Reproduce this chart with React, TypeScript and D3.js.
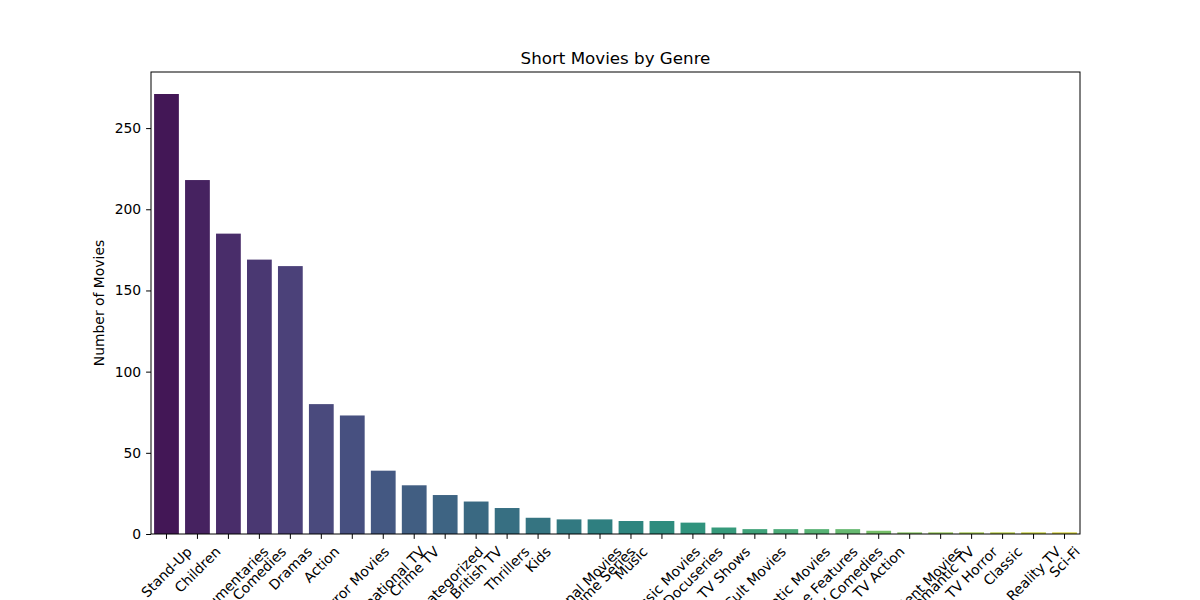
import React, { useEffect, useRef } from "react";
import * as d3 from "d3";

// genre names, in bar order
const genres = [
  "Stand-Up", "Children", "Documentaries", "Comedies", "Dramas", "Action",
  "Horror Movies", "International TV", "Crime TV", "Uncategorized", "British TV",
  "Thrillers", "Kids", "International Movies", "Anime Series", "Music",
  "Classic Movies", "Docuseries", "TV Shows", "Cult Movies", "Romantic Movies",
  "Anime Features", "TV Comedies", "TV Action", "Independent Movies",
  "Romantic TV", "TV Horror", "Classic", "Reality TV", "Sci-Fi",
];

// number of short movies per genre
const counts = [
  271, 218, 185, 169, 165, 80, 73, 39, 30, 24, 20, 16, 10, 9, 9, 8, 8, 7, 4, 3,
  3, 3, 3, 2, 1, 1, 1, 1, 1, 1,
];

const yTicks = [0, 50, 100, 150, 200, 250];

const W = 1200;
const H = 600;
const margins = { top: 72, right: 120, bottom: 66, left: 151 };
const FONT = "DejaVu Sans, sans-serif";
const FS = 13.9; // 10pt at 100 dpi
const TICK = 4.9;

// seaborn style palette: viridis sampled without the ends, saturation 0.75
function barColor(i: number, n: number) {
  const c = d3.hsl(d3.interpolateViridis((i + 1) / (n + 1)));
  c.s = c.s * 0.75;
  return c.formatHex();
}

export default function App() {
  const ref = useRef<SVGSVGElement | null>(null);

  useEffect(() => {
    if (ref.current == null) return;
    const svg = d3.select(ref.current);
    svg.selectAll("*").remove();

    const innerW = W - margins.left - margins.right;
    const innerH = H - margins.top - margins.bottom;

    const x = d3.scaleBand()
      .domain(genres)
      .range([0, innerW])
      .paddingInner(0.2)
      .paddingOuter(0.1);

    const y = d3.scaleLinear()
      .domain([0, d3.max(counts)! * 1.05])
      .range([innerH, 0]);

    const g = svg.append("g")
      .attr("transform", `translate(${margins.left},${margins.top})`);

    // bars
    g.selectAll("rect.bar")
      .data(genres)
      .enter()
      .append("rect")
      .attr("class", "bar")
      .attr("x", d => x(d) || 0)
      .attr("y", (d, i) => y(counts[i]))
      .attr("width", x.bandwidth())
      .attr("height", (d, i) => innerH - y(counts[i]))
      .attr("fill", (d, i) => barColor(i, genres.length));

    // y axis
    const yAxis = g.append("g")
      .call(d3.axisLeft(y).tickValues(yTicks).tickSize(TICK).tickPadding(TICK));
    yAxis.select(".domain").remove();
    yAxis.selectAll("line").attr("stroke", "#000").attr("stroke-width", 1);
    yAxis.selectAll("text")
      .attr("font-family", FONT)
      .attr("font-size", FS)
      .attr("fill", "#000");

    // x axis ticks
    const xAxis = g.append("g")
      .attr("transform", `translate(0,${innerH})`)
      .call(d3.axisBottom(x).tickSize(TICK).tickFormat(() => ""));
    xAxis.select(".domain").remove();
    xAxis.selectAll("line").attr("stroke", "#000").attr("stroke-width", 1);
    xAxis.selectAll("text").remove();

    // rotated tick labels, centred under the tick like matplotlib ha=center
    const lh = 15;
    g.append("g")
      .selectAll("text")
      .data(genres)
      .enter()
      .append("text")
      .attr("font-family", FONT)
      .attr("font-size", FS)
      .attr("fill", "#000")
      .attr("text-anchor", "middle")
      .attr("dominant-baseline", "central")
      .text(d => d)
      .each(function (d) {
        const el = this as SVGTextElement;
        const w = el.getComputedTextLength();
        const cx = (x(d) || 0) + x.bandwidth() / 2;
        const cy = innerH + TICK * 2 + (w + lh) * Math.SQRT1_2 / 2;
        d3.select(el).attr("transform", `translate(${cx},${cy}) rotate(-45)`);
      });

    // frame
    g.append("rect")
      .attr("width", innerW)
      .attr("height", innerH)
      .attr("fill", "none")
      .attr("stroke", "#000")
      .attr("stroke-width", 1);

    // title
    svg.append("text")
      .attr("x", margins.left + innerW / 2)
      .attr("y", margins.top - 8)
      .attr("text-anchor", "middle")
      .attr("font-family", FONT)
      .attr("font-size", 16.7)
      .text("Short Movies by Genre");

    // y label
    svg.append("text")
      .attr("transform", `translate(104,${margins.top + innerH / 2}) rotate(-90)`)
      .attr("text-anchor", "middle")
      .attr("font-family", FONT)
      .attr("font-size", FS)
      .text("Number of Movies");
  }, []);

  return (
    <svg
      ref={ref}
      width={W}
      height={H}
      style={{ position: "absolute", left: 0, top: 0, background: "#fff" }}
    />
  );
}
